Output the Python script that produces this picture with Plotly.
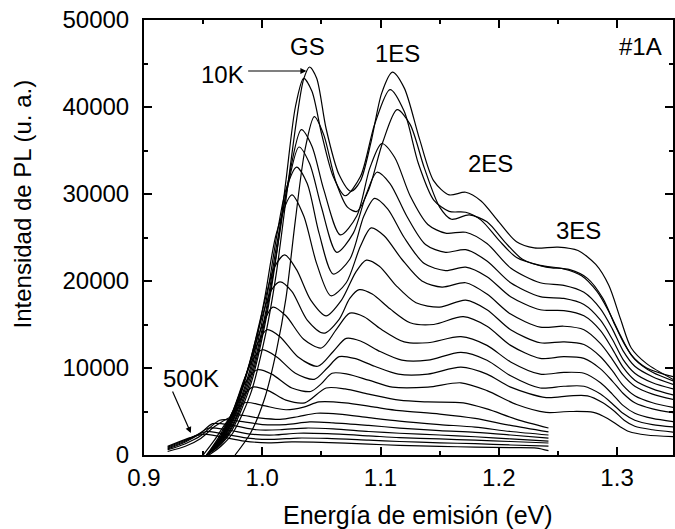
import plotly.graph_objects as go

# PL spectra, (energy eV, intensity a.u.)
c01 = [(0.955,0),(0.965,1000),(0.975,2500),(0.99,7000),(1.003,14000),(1.012,21000),(1.020,29300),(1.029,38500),(1.035,43200),(1.040,44600),(1.046,43300),(1.054,37500),(1.065,32200),(1.075,30300),(1.083,31500),(1.092,36000),(1.101,41600),(1.110,44000),(1.120,42200),(1.133,36300),(1.145,31500),(1.158,29900),(1.172,30200),(1.185,29200),(1.20,26800),(1.215,24500),(1.23,23800),(1.25,23900),(1.267,23500),(1.282,21900),(1.293,19500),(1.303,15600),(1.312,12300),(1.325,10500),(1.35,8500)]
c02 = [(0.953,0),(0.965,1200),(0.975,3000),(0.99,8000),(1.003,15500),(1.012,23000),(1.020,31500),(1.028,40000),(1.035,43300),(1.042,41800),(1.050,37000),(1.060,32000),(1.070,29800),(1.083,32000),(1.095,38000),(1.108,42000),(1.12,39500),(1.132,33500),(1.145,29300),(1.158,28000),(1.172,27900),(1.185,27000),(1.20,24700),(1.215,22700),(1.235,21800),(1.255,21400),(1.27,20600),(1.283,18800),(1.293,16500),(1.303,13700),(1.312,11500),(1.325,10000),(1.35,8900)]
c03 = [(0.977,0),(0.99,2500),(1.002,6500),(1.012,12000),(1.020,18000),(1.028,27000),(1.036,35000),(1.044,38900),(1.052,36800),(1.062,31500),(1.072,28500),(1.080,28000),(1.090,30500),(1.102,36000),(1.114,39700),(1.125,38000),(1.137,33000),(1.15,28500),(1.16,27100),(1.175,27600),(1.19,26800),(1.205,24500),(1.22,22500),(1.24,21600),(1.26,21300),(1.275,20300),(1.288,18000),(1.298,15000),(1.306,12800),(1.315,11000),(1.33,9500),(1.35,8400)]
c04 = [(0.953,0),(0.965,1300),(0.975,3300),(0.99,8500),(1.003,16000),(1.013,24000),(1.022,31500),(1.033,37400),(1.042,35500),(1.052,30500),(1.066,25300),(1.08,27500),(1.091,33000),(1.101,35800),(1.112,34200),(1.125,29800),(1.14,26500),(1.155,25500),(1.172,25600),(1.19,24300),(1.21,21500),(1.235,19800),(1.255,19500),(1.272,18700),(1.286,16800),(1.296,14500),(1.305,12000),(1.315,10200),(1.33,9000),(1.35,8000)]
c05 = [(0.953,0),(0.965,1400),(0.975,3500),(0.99,9000),(1.003,16500),(1.012,24000),(1.021,30500),(1.031,35400),(1.040,33500),(1.05,28500),(1.063,23300),(1.077,25500),(1.088,30000),(1.097,32500),(1.108,31200),(1.122,27500),(1.138,24200),(1.155,23300),(1.172,23600),(1.19,22300),(1.21,19800),(1.235,18200),(1.255,18000),(1.272,17300),(1.286,15500),(1.296,13300),(1.305,11000),(1.315,9400),(1.33,8300),(1.35,7500)]
c06 = [(0.953,0),(0.965,1500),(0.975,3800),(0.99,9500),(1.003,17500),(1.012,25000),(1.020,30500),(1.029,33100),(1.038,31200),(1.048,25500),(1.060,20800),(1.074,22500),(1.086,27500),(1.095,29500),(1.106,28300),(1.12,25000),(1.137,22000),(1.155,21200),(1.172,21600),(1.19,20500),(1.21,18200),(1.235,16700),(1.255,16600),(1.272,16000),(1.286,14300),(1.296,12200),(1.305,10100),(1.315,8600),(1.33,7600),(1.35,6800)]
c07 = [(0.953,0),(0.965,1600),(0.975,4000),(0.99,10000),(1.002,18000),(1.012,25500),(1.025,29900),(1.035,27500),(1.046,22000),(1.058,18300),(1.071,19800),(1.083,24000),(1.092,26100),(1.103,25200),(1.118,22500),(1.135,20000),(1.152,19300),(1.172,19800),(1.19,18500),(1.21,16200),(1.235,14700),(1.255,14800),(1.272,14400),(1.286,12800),(1.296,11000),(1.305,9200),(1.315,7900),(1.33,7000),(1.35,6300)]
c08 = [(0.953,0),(0.965,1700),(0.975,4200),(0.988,9800),(1.000,16500),(1.010,21500),(1.019,23000),(1.029,21300),(1.041,17800),(1.054,16000),(1.067,17800),(1.079,21000),(1.088,22400),(1.099,21700),(1.113,19500),(1.13,17500),(1.15,17000),(1.172,17800),(1.19,16700),(1.21,14400),(1.235,12900),(1.255,13000),(1.272,12700),(1.286,11300),(1.296,9700),(1.305,8000),(1.315,6800),(1.33,6000),(1.35,5400)]
c09 = [(0.953,0),(0.965,1800),(0.975,4400),(0.988,10000),(0.999,15500),(1.008,19000),(1.015,19900),(1.025,18800),(1.038,15500),(1.052,14000),(1.065,15600),(1.074,18000),(1.082,19000),(1.093,18500),(1.108,16800),(1.125,15200),(1.145,15000),(1.17,15900),(1.19,14800),(1.21,12600),(1.235,11100),(1.255,11300),(1.272,11100),(1.286,9900),(1.296,8500),(1.305,7100),(1.315,6000),(1.33,5300),(1.35,4800)]
c10 = [(0.953,0),(0.965,1900),(0.975,4600),(0.987,9500),(0.998,14200),(1.009,17000),(1.02,16000),(1.035,13300),(1.050,12300),(1.063,14500),(1.074,16300),(1.086,15900),(1.10,14500),(1.12,13000),(1.14,12900),(1.168,13600),(1.19,12600),(1.21,10700),(1.235,9300),(1.255,9500),(1.272,9400),(1.286,8300),(1.296,7000),(1.305,5700),(1.315,4800),(1.33,4200),(1.35,3800)]
c11 = [(0.953,0),(0.965,2000),(0.975,4800),(0.987,9500),(0.996,12800),(1.004,14400),(1.015,13600),(1.03,11300),(1.047,10200),(1.06,11900),(1.071,13400),(1.083,13100),(1.098,12000),(1.118,10900),(1.14,10900),(1.168,11800),(1.19,10900),(1.21,9100),(1.235,7700),(1.255,7900),(1.272,7900),(1.286,7000),(1.296,5900),(1.305,4800),(1.315,4000),(1.33,3500),(1.35,3200)]
c12 = [(0.953,0),(0.965,2100),(0.975,5000),(0.985,8800),(0.993,11200),(1.000,12100),(1.012,11300),(1.028,9400),(1.044,8700),(1.055,10000),(1.065,11300),(1.078,11100),(1.095,10200),(1.115,9300),(1.14,9300),(1.168,10100),(1.19,9300),(1.21,7800),(1.24,6600),(1.26,6800),(1.275,6800),(1.288,6000),(1.298,5000),(1.306,4000),(1.315,3300),(1.33,2900),(1.35,2600)]
c13 = [(0.953,0),(0.965,2200),(0.975,5000),(0.985,8200),(0.996,9800),(1.008,9300),(1.025,7700),(1.041,7300),(1.05,8200),(1.059,9400),(1.072,9300),(1.09,8600),(1.11,7800),(1.14,7800),(1.168,8300),(1.19,7400),(1.215,5800),(1.24,4900),(1.26,5000),(1.28,4900),(1.292,4200),(1.302,3300),(1.31,2700),(1.325,2300),(1.35,2100)]
c14 = [(0.953,0),(0.963,2000),(0.972,4200),(0.982,6500),(0.992,7800),(1.005,7400),(1.02,6300),(1.036,6000),(1.054,7700),(1.07,7600),(1.09,7000),(1.116,6300),(1.14,6100),(1.17,6000),(1.19,5300),(1.215,4100),(1.242,3100)]
c15 = [(0.950,0),(0.96,1800),(0.97,3800),(0.985,6000),(1.0,5700),(1.02,5200),(1.035,5500),(1.048,6100),(1.07,6000),(1.095,5500),(1.116,5100),(1.15,4700),(1.18,4200),(1.21,3400),(1.242,2650)]
c16 = [(0.92,400),(0.935,1000),(0.948,1900),(0.96,3300),(0.978,4600),(0.995,4300),(1.015,4100),(1.03,4400),(1.046,4800),(1.065,4700),(1.09,4300),(1.116,3900),(1.15,3500),(1.18,3200),(1.21,2700),(1.242,2300)]
c17 = [(0.92,600),(0.935,1300),(0.948,2200),(0.964,4000),(0.98,3900),(1.0,3500),(1.02,3500),(1.04,3800),(1.06,3700),(1.09,3400),(1.116,3100),(1.15,2800),(1.18,2600),(1.21,2300),(1.242,1950)]
c18 = [(0.92,700),(0.935,1500),(0.947,2400),(0.958,3600),(0.975,3400),(0.995,2900),(1.015,2900),(1.037,3100),(1.06,3000),(1.09,2700),(1.116,2500),(1.15,2300),(1.18,2100),(1.21,1850),(1.242,1600)]
c19 = [(0.92,800),(0.935,1600),(0.946,2400),(0.955,3100),(0.97,2900),(0.99,2400),(1.01,2300),(1.03,2500),(1.055,2450),(1.09,2200),(1.116,2000),(1.15,1850),(1.18,1700),(1.21,1550),(1.242,1380)]
c20 = [(0.92,900),(0.935,1700),(0.945,2300),(0.953,2700),(0.968,2400),(0.99,1900),(1.01,1800),(1.03,1950),(1.055,1900),(1.09,1700),(1.116,1550),(1.15,1400),(1.18,1300),(1.21,1150),(1.242,1030)]
c21 = [(0.92,1000),(0.935,1800),(0.944,2200),(0.951,2400),(0.965,2100),(0.985,1600),(1.005,1400),(1.025,1500),(1.05,1450),(1.09,1250),(1.116,1100),(1.15,1000),(1.18,900),(1.21,850),(1.232,800),(1.242,500)]

curves = [c01, c02, c03, c04, c05, c06, c07, c08, c09, c10, c11,
          c12, c13, c14, c15, c16, c17, c18, c19, c20, c21]

x_ticks = [0.9, 1.0, 1.1, 1.2, 1.3]
y_ticks = [0, 10000, 20000, 30000, 40000, 50000]

FONT = "Liberation Sans, Arial, sans-serif"

fig = go.Figure()
for c in curves:
    xs = [p[0] for p in c]
    ys = [p[1] for p in c]
    fig.add_trace(go.Scatter(x=xs, y=ys, mode="lines",
                             line=dict(color="black", width=1.2, shape="spline", smoothing=0.8),
                             showlegend=False, hoverinfo="skip"))

axis_common = dict(showline=True, linecolor="black", linewidth=2, mirror="ticks",
                   ticks="inside", tickcolor="black", tickwidth=1.5, ticklen=8,
                   showgrid=False, zeroline=False,
                   tickfont=dict(family=FONT, size=24, color="black"))

fig.update_xaxes(range=[0.9, 1.3473], tickvals=x_ticks,
                 ticktext=[f"{v:.1f}" for v in x_ticks],
                 minor=dict(ticks="inside", ticklen=4, tickwidth=1.5, tickcolor="black", dtick=0.05, tick0=0.9),
                 **axis_common)
fig.update_yaxes(range=[0, 50000], tickvals=y_ticks,
                 ticktext=[str(v) for v in y_ticks], ticklabelstandoff=8,
                 minor=dict(ticks="inside", ticklen=4, tickwidth=1.5, tickcolor="black", dtick=5000, tick0=0),
                 **axis_common)

labels = [("GS", 1.038, 46900), ("1ES", 1.114, 46200), ("2ES", 1.193, 33450),
          ("3ES", 1.267, 25860), ("#1A", 1.320, 46900), ("10K", 0.966, 43700),
          ("500K", 0.940, 8850)]
ann = []
for t, x, y in labels:
    ann.append(dict(text=t, x=x, y=y, xref="x", yref="y", showarrow=False,
                    xanchor="center", yanchor="middle",
                    font=dict(family=FONT, size=24, color="black")))
# arrows
ann.append(dict(text="", x=1.0373, y=44140, ax=0.9868, ay=44140, xref="x", yref="y",
                axref="x", ayref="y", showarrow=True, arrowhead=2, arrowsize=1,
                arrowwidth=1.2, arrowcolor="black"))
ann.append(dict(text="", x=0.9396, y=2530, ax=0.9236, ay=7470, xref="x", yref="y",
                axref="x", ayref="y", showarrow=True, arrowhead=2, arrowsize=1,
                arrowwidth=1.2, arrowcolor="black"))
# axis titles
ann.append(dict(text="Energía de emisión (eV)", x=0.518, y=-0.138, xref="paper", yref="paper",
                xanchor="center", yanchor="middle",
                showarrow=False, font=dict(family=FONT, size=25, color="black")))
ann.append(dict(text="Intensidad de PL (u. a.)", x=-0.2298, y=0.577, xref="paper", yref="paper",
                xanchor="center", yanchor="middle",
                showarrow=False, textangle=-90, font=dict(family=FONT, size=24, color="black")))

fig.update_layout(width=675, height=529, margin=dict(l=144, r=0, t=20, b=74),
                  paper_bgcolor="white", plot_bgcolor="white", annotations=ann)

fig.write_html("out.html")
